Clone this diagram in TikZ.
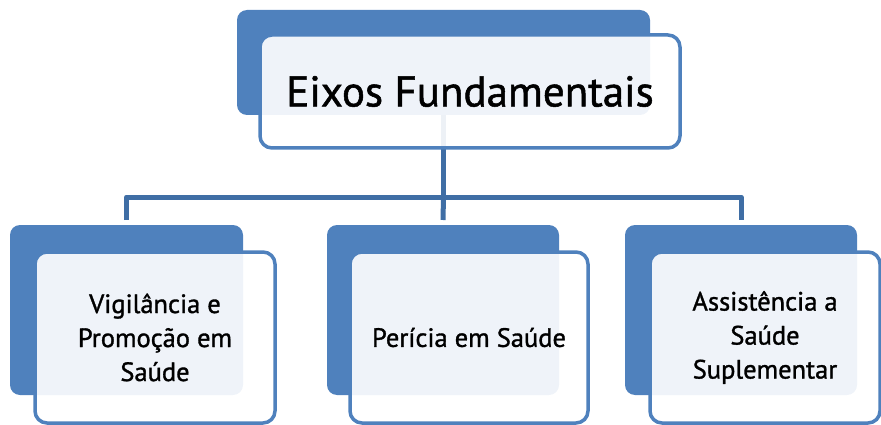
\documentclass[tikz,border=0pt]{standalone}
\usepackage{fontspec}
\setmainfont[FakeBold=1.2]{PT Sans}
\usetikzlibrary{calc}
\definecolor{boxblue}{HTML}{4F81BD}
\definecolor{connblue}{HTML}{3F6EA5}
\tikzset{
  backbox/.style={draw=none, fill=boxblue, rounded corners=10pt, inner sep=0pt},
  frontbox/.style={draw=boxblue, line width=3.5pt, fill=white, fill opacity=0.91, text opacity=1,
    rounded corners=12pt, inner sep=0pt, align=center, text=black},
  conn/.style={draw=connblue, line width=5pt, line join=round},
  childtext/.style={font=\fontsize{26.5}{34}\selectfont}
}
\begin{document}
\begin{tikzpicture}[x=1pt,y=1pt]
\useasboundingbox (0,0) rectangle (881,-425);
% back boxes
\node[backbox, minimum width=413pt, minimum height=105pt] (tb) at (443.5,-62.5) {};
\node[backbox, minimum width=233pt, minimum height=170pt] (c1b) at (126.5,-310) {};
\node[backbox, minimum width=232pt, minimum height=170pt] (c2b) at (443,-310) {};
\node[backbox, minimum width=232pt, minimum height=170pt] (c3b) at (741,-310) {};
% connectors
\coordinate (j) at (443.5,-197);
\coordinate (e1) at (126.5,-220);
\coordinate (e2) at (443,-220);
\coordinate (e3) at (741,-220);
\draw[conn] (tb.south) -- (j);
\draw[conn] (e1) -- (e1 |- j) -- (e3 |- j) -- (e3);
\draw[conn] (j) -- (e2);
% front boxes
\node[frontbox, minimum width=420pt, minimum height=113pt, font=\fontsize{43}{48}\selectfont] (tf) at (470,-91.5) {Eixos Fundamentais};
\node[frontbox, minimum width=240pt, minimum height=171pt, childtext] (c1f) at (155,-337.5) {Vigilância e\\Promoção em\\Saúde};
\node[frontbox, minimum width=238pt, minimum height=171pt, childtext] (c2f) at (469,-337.5) {Perícia em Saúde};
\node[frontbox, minimum width=230pt, minimum height=171pt, childtext] (c3f) at (765,-337.5) {Assistência a\\Saúde\\Suplementar};
\end{tikzpicture}
\end{document}
